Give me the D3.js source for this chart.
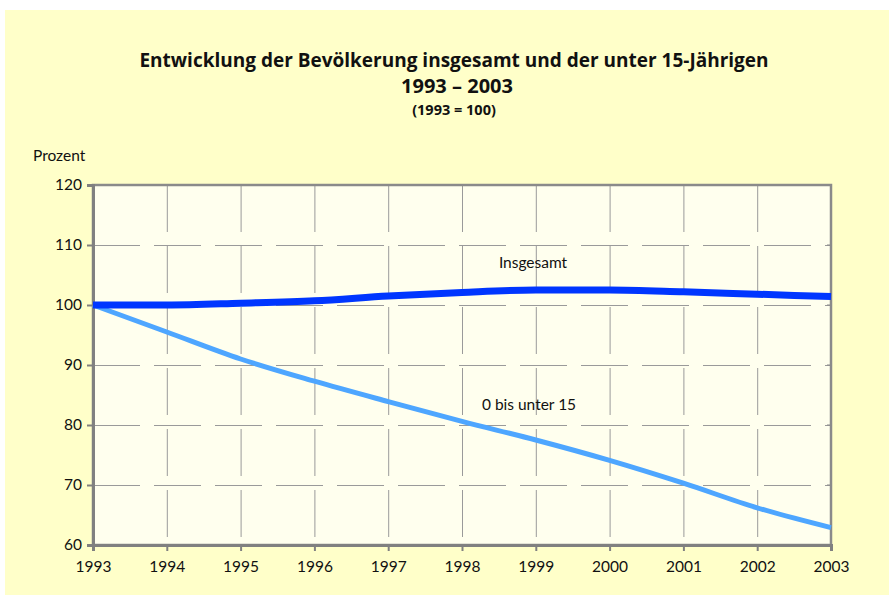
<!DOCTYPE html>
<html>
<head>
<meta charset="utf-8">
<script src="https://cdn.jsdelivr.net/npm/d3@7"></script>
<style>
  body { margin: 0; background: #fff; }
  text { font-family: Lato, "Open Sans", sans-serif; fill: #111; }
  .title { font-weight: bold; font-family: "Open Sans", sans-serif; }
</style>
</head>
<body>
<svg id="chart" width="889" height="599"></svg>
<script>
const years = [1993, 1994, 1995, 1996, 1997, 1998, 1999, 2000, 2001, 2002, 2003];
const insgesamt = [100, 100.0, 100.3, 100.7, 101.5, 102.1, 102.5, 102.5, 102.2, 101.8, 101.4];
const unter15 = [100, 95.5, 91.0, 87.3, 83.9, 80.6, 77.5, 74.1, 70.3, 66.2, 62.9];
const yTicks = [60, 70, 80, 90, 100, 110, 120];
const seriesNames = ["Insgesamt", "0 bis unter 15"];
const labelPos = [[1998.5, 106.2], [1998.27, 82.5]];

const svg = d3.select("#chart");
const width = +svg.attr("width");

const plotLeft = 93, plotRight = 831, plotTop = 185, plotBottom = 545;

// yellow backdrop
svg.append("rect")
  .attr("x", 5).attr("y", 10)
  .attr("width", width - 5).attr("height", 585)
  .attr("fill", "#ffffc9");

const x = d3.scaleLinear().domain([1993, 2003]).range([plotLeft, plotRight]);
const y = d3.scaleLinear().domain([60, 120]).range([plotBottom, plotTop]);

svg.append("rect")
  .attr("x", plotLeft).attr("y", plotTop)
  .attr("width", plotRight - plotLeft).attr("height", plotBottom - plotTop)
  .attr("fill", "#ffffee");

// grid
svg.append("g").selectAll("line")
  .data(yTicks.slice(1, -1))
  .enter().append("line")
  .attr("x1", plotLeft).attr("x2", plotRight)
  .attr("y1", d => y(d) + 0.5).attr("y2", d => y(d) + 0.5)
  .attr("stroke", "#9a9a9a")
  .attr("stroke-dasharray", "47,14");

svg.append("g").selectAll("line")
  .data(years.slice(1, -1))
  .enter().append("line")
  .attr("x1", d => x(d) + 0.5).attr("x2", d => x(d) + 0.5)
  .attr("y1", plotTop).attr("y2", plotBottom)
  .attr("stroke", "#9a9a9a")
  .attr("stroke-dasharray", "47,14");

// frame
svg.append("rect")
  .attr("x", plotLeft).attr("y", plotTop)
  .attr("width", plotRight - plotLeft).attr("height", plotBottom - plotTop)
  .attr("fill", "none")
  .attr("stroke", "#8a8a8a")
  .attr("stroke-width", 2.5);

// right inner ticks
svg.append("g").selectAll("line")
  .data(yTicks.slice(1, -1))
  .enter().append("line")
  .attr("x1", plotRight - 4).attr("x2", plotRight)
  .attr("y1", d => y(d)).attr("y2", d => y(d))
  .attr("stroke", "#8a8a8a");

// axes
const yAxis = svg.append("g")
  .attr("transform", `translate(${plotLeft},0)`)
  .call(d3.axisLeft(y).tickValues(yTicks).tickSize(6).tickPadding(5).tickFormat(d3.format("d")));

const xAxis = svg.append("g")
  .attr("transform", `translate(0,${plotBottom})`)
  .call(d3.axisBottom(x).tickValues(years).tickSize(6).tickPadding(10).tickFormat(d3.format("d")));

[yAxis, xAxis].forEach(ax => {
  ax.select(".domain").attr("stroke", "#808080").attr("stroke-width", 3);
  ax.selectAll(".tick line").attr("stroke", "#808080").attr("stroke-width", 2);
  ax.selectAll("text")
    .style("font-family", "Lato, sans-serif")
    .style("font-size", "15.5px")
    .attr("fill", "#111");
});

// lines
const line = d3.line()
  .x((d, i) => x(years[i]))
  .y(d => y(d))
  .curve(d3.curveMonotoneX);

svg.append("path")
  .datum(unter15)
  .attr("d", line)
  .attr("fill", "none")
  .attr("stroke", "#4ea6ff")
  .attr("stroke-width", 5);

svg.append("path")
  .datum(insgesamt)
  .attr("d", line)
  .attr("fill", "none")
  .attr("stroke", "#0036ff")
  .attr("stroke-width", 7);

svg.selectAll(".series-label")
  .data(seriesNames)
  .enter().append("text")
  .attr("class", "series-label")
  .attr("x", (d, i) => x(labelPos[i][0]))
  .attr("y", (d, i) => y(labelPos[i][1]))
  .style("font-size", "15.5px")
  .text(d => d);

// titles
svg.append("text")
  .attr("class", "title")
  .attr("x", 454).attr("y", 67)
  .attr("text-anchor", "middle")
  .style("font-size", "19px")
  .text("Entwicklung der Bevölkerung insgesamt und der unter 15-Jährigen");

svg.append("text")
  .attr("class", "title")
  .attr("x", 457).attr("y", 93)
  .attr("text-anchor", "middle")
  .style("font-size", "20px")
  .text("1993 – 2003");

svg.append("text")
  .attr("class", "title")
  .attr("x", 454).attr("y", 115)
  .attr("text-anchor", "middle")
  .style("font-size", "14.5px")
  .text("(1993 = 100)");

svg.append("text")
  .attr("x", 33).attr("y", 161)
  .style("font-size", "15.5px")
  .text("Prozent");
</script>
</body>
</html>
